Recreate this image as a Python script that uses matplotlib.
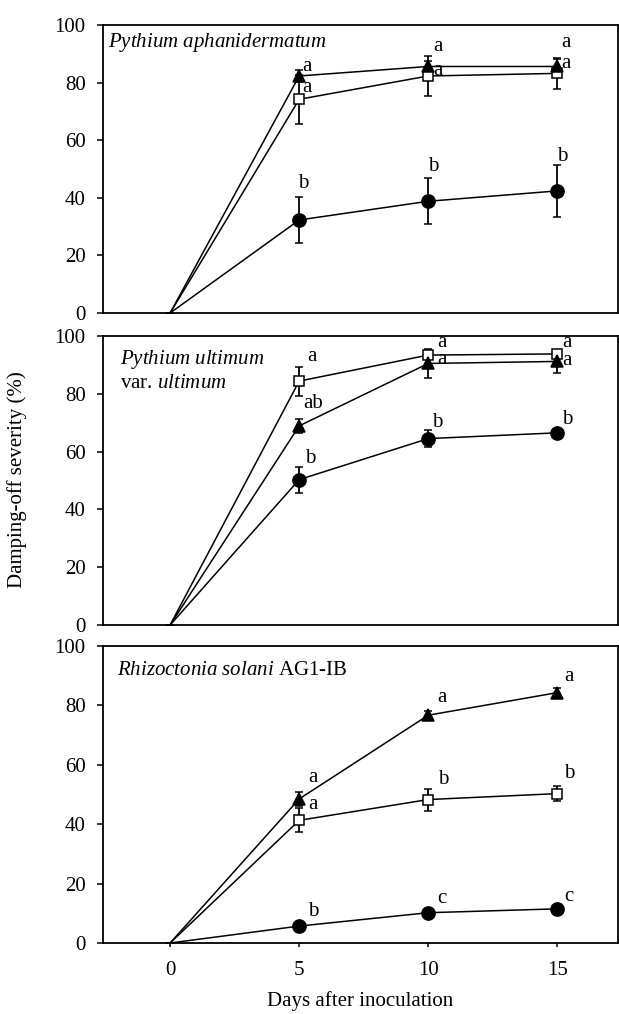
"""Damping-off severity over time for three pathogens (three stacked panels)."""

import matplotlib
matplotlib.use("Agg")
import matplotlib.pyplot as plt

plt.rcParams["font.family"] = ["Liberation Serif", "DejaVu Serif"]
plt.rcParams["mathtext.fontset"] = "custom"
plt.rcParams["mathtext.rm"] = "Liberation Serif"
plt.rcParams["mathtext.it"] = "Liberation Serif:italic"

# ---- data ---------------------------------------------------------------
days = [0, 5, 10, 15]

# Pythium aphanidermatum
pa_circle = [0, 32.3, 38.8, 42.4]
pa_circle_err = [0, 8.0, 8.0, 9.0]
pa_square = [0, 74.2, 82.3, 83.2]
pa_square_err = [0, 8.5, 7.0, 5.5]
pa_triangle = [0, 82.3, 85.6, 85.6]
pa_triangle_err = [0, 2.0, 2.0, 2.5]
pa_letters = {"circle": ["b", "b", "b"], "square": ["a", "a", "a"], "triangle": ["a", "a", "a"]}

# Pythium ultimum var. ultimum
pu_circle = [0, 50.3, 64.5, 66.5]
pu_circle_err = [0, 4.5, 3.0, 1.0]
pu_square = [0, 84.4, 93.4, 93.8]
pu_square_err = [0, 5.0, 1.0, 1.0]
pu_triangle = [0, 68.9, 90.5, 91.2]
pu_triangle_err = [0, 2.5, 5.0, 4.0]
pu_letters = {"circle": ["b", "b", "b"], "square": ["a", "a", "a"], "triangle": ["ab", "a", "a"]}

# Rhizoctonia solani AG1-IB
rs_circle = [0, 5.7, 10.2, 11.5]
rs_circle_err = [0, 1.0, 1.0, 1.0]
rs_square = [0, 41.3, 48.3, 50.3]
rs_square_err = [0, 4.0, 3.7, 2.5]
rs_triangle = [0, 48.5, 76.7, 84.3]
rs_triangle_err = [0, 2.5, 1.5, 1.5]
rs_letters = {"circle": ["b", "c", "c"], "square": ["a", "b", "b"], "triangle": ["a", "a", "a"]}

# ---- layout (letter offsets in pixels from the marker, baseline) --------
letter_offsets = [
    {"circle": [(4, 32), (5, 30), (5, 30)],
     "square": [(8, 7), (10, 1), (9, 5)],
     "triangle": [(8, 5), (10, 15), (9, 19)]},
    {"circle": [(11, 17), (9, 12), (10, 9)],
     "square": [(13, 20), (14, 8), (10, 7)],
     "triangle": [(14, 18), (14, -1), (10, -4)]},
    {"circle": [(14, 10), (14, 10), (12, 8)],
     "square": [(14, 11), (15, 16), (12, 16)],
     "triangle": [(14, 17), (14, 13), (12, 12)]},
]

panels = [
    ("$\\mathit{Pythium\\ aphanidermatum}$", [0.010, 0.925],
     (pa_circle, pa_circle_err), (pa_square, pa_square_err), (pa_triangle, pa_triangle_err), pa_letters),
    ("$\\mathit{Pythium\\ ultimum}$\nvar. $\\mathit{ultimum}$", [0.033, 0.82],
     (pu_circle, pu_circle_err), (pu_square, pu_square_err), (pu_triangle, pu_triangle_err), pu_letters),
    ("$\\mathit{Rhizoctonia\\ solani}$ AG1-IB", [0.027, 0.902],
     (rs_circle, rs_circle_err), (rs_square, rs_square_err), (rs_triangle, rs_triangle_err), rs_letters),
]

styles = {
    "circle": dict(marker="o", markersize=9.5, markerfacecolor="black"),
    "square": dict(marker="s", markersize=7.5, markerfacecolor="white"),
    "triangle": dict(marker="^", markersize=8.5, markerfacecolor="black"),
}

W, H = 619, 1014
fig = plt.figure(figsize=(W / 100, H / 100), dpi=100)
ax_boxes = [(25, 313), (336, 625), (646, 943)]
left_px, right_px = 103, 618
fs = 15

for i, (title, tpos, circ, sq, tri, letters) in enumerate(panels):
    top, bot = ax_boxes[i]
    ax = fig.add_axes([left_px / W, 1 - bot / H, (right_px - left_px) / W, (bot - top) / H])
    for key, (vals, errs) in (("circle", circ), ("square", sq), ("triangle", tri)):
        ax.errorbar(days, vals, yerr=errs, color="black", linewidth=1.1, elinewidth=1.3,
                    capsize=3.2, capthick=1.3, markeredgecolor="black", markeredgewidth=1.1,
                    markevery=[1, 2, 3], zorder=3, **styles[key])
        for j, (d, v, lab) in enumerate(zip(days[1:], vals[1:], letters[key])):
            dx, dy = letter_offsets[i][key][j]
            ax.annotate(lab, xy=(d, v), xytext=(dx, dy), textcoords="offset pixels",
                        ha="center", va="baseline", fontsize=fs, zorder=5)
    ax.text(tpos[0], tpos[1], title, transform=ax.transAxes, fontsize=fs,
            ha="left", va="baseline", linespacing=1.25)
    ax.set_xlim(-2.6, 17.35)
    ax.set_ylim(0, 100)
    ax.set_yticks([0, 20, 40, 60, 80, 100])
    ax.tick_params(axis="y", direction="out", length=4.5, width=1.1, labelsize=fs, pad=8)
    for sp in ax.spines.values():
        sp.set_linewidth(1.3)
    if i < 2:
        ax.tick_params(axis="x", bottom=False, labelbottom=False)
    else:
        ax.set_xticks([0, 5, 10, 15])
        ax.tick_params(axis="x", direction="out", length=3, width=1.1, labelsize=fs, pad=10)
        ax.set_xlabel("Days after inoculation", fontsize=fs, labelpad=8)

fig.text(17 / W, 1 - 480 / H, "Damping-off severity (%)", rotation=90,
         ha="center", va="center", fontsize=fs)

fig.savefig("out.png", dpi=100)
